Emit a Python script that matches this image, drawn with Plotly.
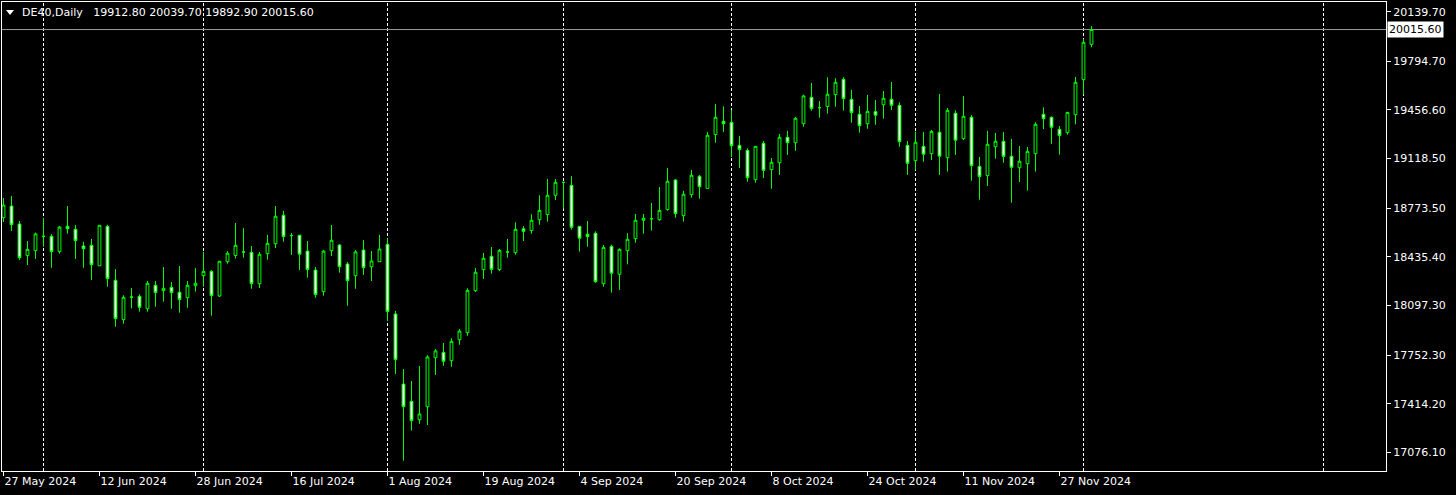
import plotly.graph_objects as go
import pandas as pd

# ---------------- data (DE40 daily) ----------------
opens = [18708, 18789, 18664, 18444, 18479, 18576, 18579, 18472, 18648, 18627,
         18511, 18516, 18374, 18648, 18273, 17999, 18155, 18162, 18075, 18238,
         18201, 18224, 18190, 18152, 18235, 18305, 18335, 18164, 18402, 18445,
         18468, 18467, 18249, 18458, 18527, 18725, 18584, 18586, 18476, 18344,
         18194, 18479, 18518, 18386, 18305, 18483, 18367, 18402, 18523, 18039,
         17552, 17432, 17304, 17394, 17735, 17772, 17714, 17860, 17909, 18201,
         18347, 18440, 18347, 18468, 18465, 18631, 18618, 18694, 18729, 18864,
         18953, 18933, 18648, 18593, 18600, 18249, 18509, 18315, 18479, 18562,
         18690, 18700, 18694, 18764, 18970, 18722, 18868, 18996, 18912, 19285,
         19378, 19371, 19211, 19176, 18972, 19225, 19042, 19090, 19267, 19229,
         19361, 19545, 19472, 19481, 19563, 19670, 19531, 19427, 19361, 19445,
         19493, 19531, 19489, 19211, 19104, 19204, 19153, 19302, 19125, 19434,
         19257, 19406, 19065, 19000, 19201, 19239, 19135, 19055, 19083, 19153,
         19427, 19406, 19322, 19299, 19424, 19667, 19912.8]
highs = [18845, 18859, 18685, 18546, 18604, 18706, 18595, 18650, 18789, 18657,
         18541, 18560, 18657, 18659, 18351, 18169, 18219, 18176, 18268, 18268,
         18365, 18261, 18372, 18268, 18358, 18470, 18344, 18407, 18476, 18671,
         18636, 18511, 18470, 18588, 18789, 18755, 18602, 18588, 18546, 18365,
         18483, 18657, 18525, 18400, 18483, 18553, 18476, 18588, 18565, 18060,
         17656, 17573, 17677, 17752, 17795, 17837, 17870, 17934, 18217, 18358,
         18463, 18504, 18490, 18560, 18676, 18650, 18732, 18864, 18977, 18977,
         18956, 18996, 18650, 18685, 18613, 18518, 18520, 18495, 18602, 18734,
         18734, 18810, 18921, 19053, 18977, 18894, 19040, 19005, 19304, 19498,
         19482, 19454, 19276, 19190, 19206, 19241, 19123, 19290, 19311, 19408,
         19563, 19644, 19519, 19684, 19677, 19684, 19596, 19484, 19561, 19526,
         19588, 19651, 19510, 19241, 19306, 19304, 19318, 19568, 19470, 19454,
         19554, 19422, 19130, 19311, 19297, 19304, 19255, 19206, 19199, 19371,
         19475, 19411, 19345, 19443, 19686, 19950, 20039.7]
lows = [18678, 18615, 18414, 18379, 18421, 18506, 18360, 18458, 18597, 18421,
        18360, 18275, 18372, 18228, 17950, 17971, 18078, 18055, 18055, 18089,
        18124, 18075, 18048, 18082, 18194, 18228, 18027, 18157, 18388, 18424,
        18430, 18214, 18219, 18416, 18497, 18541, 18449, 18344, 18291, 18152,
        18166, 18442, 18326, 18096, 18214, 18310, 18268, 18400, 17990, 17622,
        17019, 17228, 17276, 17267, 17615, 17679, 17672, 17825, 17888, 18192,
        18282, 18319, 18337, 18430, 18451, 18546, 18597, 18659, 18680, 18831,
        18771, 18625, 18472, 18506, 18256, 18228, 18187, 18206, 18384, 18534,
        18597, 18618, 18687, 18757, 18708, 18680, 18847, 18840, 18909, 19229,
        19304, 19130, 19053, 18958, 18951, 18984, 18909, 19005, 19144, 19172,
        19340, 19452, 19403, 19431, 19479, 19452, 19368, 19299, 19326, 19354,
        19396, 19456, 19201, 19005, 19040, 19097, 19109, 19005, 19028, 19144,
        19248, 18965, 18833, 18928, 19118, 19090, 18812, 18956, 18896, 19028,
        19324, 19222, 19146, 19285, 19357, 19563, 19892.9]
closes = [18796, 18659, 18430, 18488, 18595, 18579, 18472, 18643, 18631, 18548,
          18492, 18381, 18655, 18284, 18006, 18155, 18157, 18085, 18252, 18187,
          18217, 18187, 18138, 18238, 18252, 18335, 18166, 18405, 18461, 18516,
          18470, 18249, 18454, 18530, 18718, 18576, 18583, 18454, 18347, 18173,
          18476, 18551, 18367, 18270, 18470, 18360, 18407, 18490, 18055, 17721,
          17394, 17297, 17344, 17740, 17782, 17710, 17849, 17920, 18203, 18329,
          18426, 18349, 18481, 18470, 18627, 18613, 18690, 18759, 18864, 18954,
          18954, 18641, 18565, 18576, 18263, 18502, 18322, 18488, 18558, 18690,
          18704, 18701, 18759, 18961, 18736, 18871, 19003, 18923, 19281, 19406,
          19361, 19208, 19181, 18986, 19204, 19037, 19093, 19267, 19229, 19399,
          19554, 19466, 19473, 19566, 19649, 19535, 19438, 19347, 19447, 19420,
          19538, 19489, 19236, 19086, 19232, 19149, 19308, 19135, 19454, 19246,
          19413, 19069, 18993, 19218, 19239, 19133, 19058, 19100, 19169, 19357,
          19396, 19336, 19278, 19440, 19649, 19927, 20015.6]

first_date = "2024-05-27"
dates = pd.bdate_range(first_date, periods=len(opens))

date_tick_labels = ["27 May 2024", "12 Jun 2024", "28 Jun 2024", "16 Jul 2024",
                    "1 Aug 2024", "19 Aug 2024", "4 Sep 2024", "20 Sep 2024",
                    "8 Oct 2024", "24 Oct 2024", "11 Nov 2024", "27 Nov 2024"]
price_tick_vals = [20139.70, 19794.70, 19456.60, 19118.50, 18773.50,
                   18435.40, 18097.30, 17752.30, 17414.20, 17076.10]
last_price = 20015.60
symbol_title = "DE40,Daily"
future_separator_bar = 165   # month separator drawn in the empty right margin

# ---------------- derived positions ----------------
bars = list(range(len(opens)))
date_strs = [f"{d.day} {d.strftime('%b %Y')}" for d in dates]
tick_idx = [date_strs.index(t) for t in date_tick_labels]
month_start_idx = [i for i in range(1, len(dates)) if dates[i].month != dates[i - 1].month]
separators = month_start_idx + [future_separator_bar]

FONT = "DejaVu Sans"
GREEN = "#00ff00"

fig = go.Figure(go.Candlestick(
    x=bars, open=opens, high=highs, low=lows, close=closes,
    increasing=dict(line=dict(color=GREEN, width=1), fillcolor="#000000"),
    decreasing=dict(line=dict(color=GREEN, width=1), fillcolor="#ffffff"),
    whiskerwidth=0,
    text=date_strs,
    showlegend=False,
))

shapes = []
for s in separators:
    shapes.append(dict(type="line", xref="x", yref="paper", x0=s, x1=s, y0=0, y1=1,
                       line=dict(color="#ffffff", width=1, dash="3px,2px"), layer="below"))
shapes.append(dict(type="line", xref="paper", yref="y", x0=0, x1=1, y0=last_price, y1=last_price,
                   line=dict(color="#9a9a9a", width=1), layer="below"))

# small triangle before the title (pixel geometry converted to paper coords)
PW, PH, L0, T0 = 1384.0, 469.0, 2.0, 2.0
def px(xp):
    return (xp - L0) / PW
def py(yp):
    return 1 - (yp - T0) / PH
shapes.append(dict(type="path", xref="paper", yref="paper",
                   path=f"M {px(6)},{py(10)} L {px(14)},{py(10)} L {px(10)},{py(15)} Z",
                   fillcolor="#ffffff", line=dict(width=0)))

title_text = (symbol_title + "&nbsp;&nbsp; " +
              " ".join(f"{v:.2f}" for v in (opens[-1], highs[-1], lows[-1], closes[-1])))

annotations = [
    dict(xref="paper", yref="paper", x=px(20), y=py(12.5), xanchor="left", yanchor="middle",
         text=title_text, showarrow=False, font=dict(family=FONT, size=11, color="#ffffff")),
    dict(xref="paper", yref="y", x=1, y=last_price, xanchor="left", yanchor="middle", xshift=1,
         text=f"{last_price:.2f}", showarrow=False, bgcolor="#ffffff", borderpad=1,
         font=dict(family=FONT, size=11, color="#000000")),
]

fig.update_layout(
    width=1456, height=495,
    margin=dict(l=2, r=70, t=2, b=24),
    paper_bgcolor="#000000", plot_bgcolor="#000000",
    boxgap=0.5,
    shapes=shapes, annotations=annotations,
    showlegend=False,
    xaxis=dict(
        range=[-0.1875, 172.8125], rangeslider=dict(visible=False),
        showgrid=False, zeroline=False,
        showline=True, linecolor="#ffffff", linewidth=1, mirror=True,
        tickmode="array", tickvals=tick_idx, ticktext=date_tick_labels,
        ticks="outside", ticklen=4, tickcolor="#ffffff", tickwidth=1,
        ticklabelposition="outside right",
        tickfont=dict(family=FONT, size=11, color="#ffffff"),
    ),
    yaxis=dict(
        side="right", range=[16947.5, 20207.0],
        showgrid=False, zeroline=False,
        showline=True, linecolor="#ffffff", linewidth=1, mirror=True,
        tickmode="array", tickvals=price_tick_vals,
        ticktext=[f"{v:.2f}" for v in price_tick_vals],
        ticks="outside", ticklen=4, tickcolor="#ffffff", tickwidth=1,
        tickfont=dict(family=FONT, size=11, color="#ffffff"),
    ),
)

fig.write_html("out.html",
               config={"displayModeBar": False},
               post_script="document.body.style.margin='0';document.body.style.background='#000';")
